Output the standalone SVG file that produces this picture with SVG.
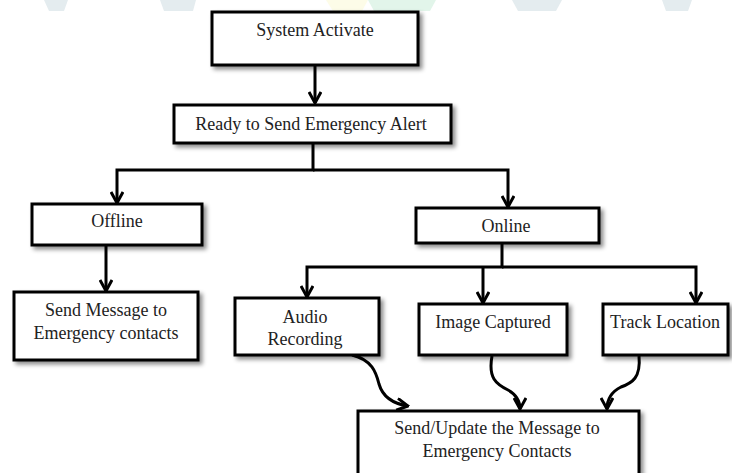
<svg xmlns="http://www.w3.org/2000/svg" width="732" height="473" viewBox="0 0 732 473">
<style>
.box{fill:#fff;stroke:#000;stroke-width:3;filter:url(#sh)}
.t{font-family:"Liberation Serif","Times New Roman",serif;font-size:18px;fill:#222;text-anchor:middle}
.c{fill:none;stroke:#000;stroke-width:3;marker-end:url(#ah)}
.cl{fill:none;stroke:#000;stroke-width:3}
.wm{stroke:none}
</style>
<defs>
<filter id="sh" x="-10%" y="-10%" width="130%" height="140%">
<feDropShadow dx="3" dy="3" stdDeviation="2" flood-color="#000" flood-opacity="0.45"/>
</filter>
<marker id="ah" viewBox="0 0 14 14" refX="12.5" refY="7" markerWidth="14" markerHeight="14" markerUnits="userSpaceOnUse" orient="auto">
<path d="M1.5,1 L12.5,7 L1.5,13" fill="none" stroke="#000" stroke-width="3"/>
</marker>
</defs>
<rect width="732" height="473" fill="#fff"/>
<g id="watermark">
<polygon class="wm" points="44,0 68,0 64,11 49,11" fill="#e4ecef"/>
<polygon class="wm" points="160,0 196,0 193,11 164,11" fill="#e4ecef"/>
<polygon class="wm" points="326,0 368,0 362,11 333,11" fill="#fdfce8"/>
<polygon class="wm" points="368,0 436,0 430,11 374,11" fill="#e2f5ea"/>
<polygon class="wm" points="512,0 562,0 556,11 518,11" fill="#e4ecef"/>
<polygon class="wm" points="662,0 692,0 688,11 666,11" fill="#e4ecef"/>
</g>
<g id="connectors">
<path class="c" d="M315,66 V103"/>
<path class="c" d="M313,144 V170 H117 V203"/>
<path class="c" d="M313,170 H508 V207"/>
<path class="c" d="M106,246 V291"/>
<path class="c" d="M502,244 V267 H307 V297"/>
<path class="c" d="M502,267 H696 V303"/>
<path class="c" d="M483,267 V303"/>
<path class="c" d="M352,355 C372,360 376,372 379,384 C383,398 395,404 408,406"/>
<path class="c" d="M492,356 C488,378 496,384 508,390 C517,395 520,401 520,409"/>
<path class="c" d="M639,356 C641,378 632,383 621,387 C611,392 607,400 607,409"/>
</g>
<g id="n_system">
<rect class="box" x="212" y="12" width="206" height="53"/>
<text class="t" x="315" y="36">System Activate</text>
</g>
<g id="n_ready">
<rect class="box" x="174" y="105" width="277" height="38"/>
<text class="t" x="311" y="130">Ready to Send Emergency Alert</text>
</g>
<g id="n_offline">
<rect class="box" x="32" y="204" width="170" height="41"/>
<text class="t" x="117" y="227">Offline</text>
</g>
<g id="n_online">
<rect class="box" x="416" y="208" width="183" height="35"/>
<text class="t" x="506" y="232">Online</text>
</g>
<g id="n_sendmsg">
<rect class="box" x="14" y="292" width="184" height="68"/>
<text class="t" x="106" y="316">Send Message to</text>
<text class="t" x="106" y="339">Emergency contacts</text>
</g>
<g id="n_audio">
<rect class="box" x="235" y="298" width="144" height="57"/>
<text class="t" x="305" y="323">Audio</text>
<text class="t" x="305" y="345">Recording</text>
</g>
<g id="n_image">
<rect class="box" x="419" y="304" width="148" height="51"/>
<text class="t" x="493" y="328">Image Captured</text>
</g>
<g id="n_track">
<rect class="box" x="603" y="304" width="125" height="51"/>
<text class="t" x="665" y="328">Track Location</text>
</g>
<g id="n_bottom">
<rect class="box" x="358" y="411" width="281" height="72"/>
<text class="t" x="497" y="434">Send/Update the Message to</text>
<text class="t" x="497" y="457">Emergency Contacts</text>
</g>
</svg>
